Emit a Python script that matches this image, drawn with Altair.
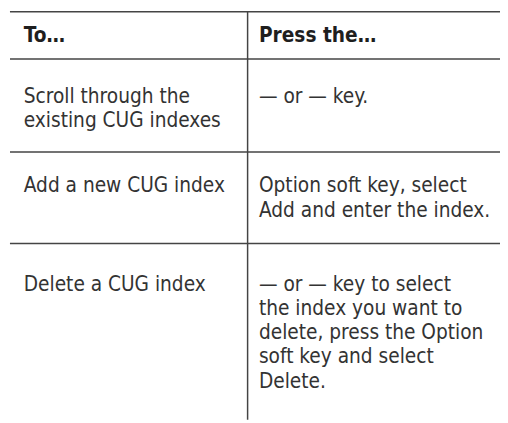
import altair as alt
import pandas as pd

# ---- table content ----
header = ["To…", "Press the…"]
col_to = [
    ["Scroll through the", "existing CUG indexes"],
    ["Add a new CUG index"],
    ["Delete a CUG index"],
]
col_press = [
    ["— or — key."],
    ["Option soft key, select", "Add and enter the index."],
    ["— or — key to select", "the index you want to", "delete, press the Option",
     "soft key and select", "Delete."],
]

# ---- layout (page pixels) ----
col_x = [24, 263]
header_base = 39
row_first_base = [101, 192, 292]
pitch = 24.6
h_lines = [8.5, 56.5, 151, 244]
v_line_x = 251.5

rows = []
for c, txt in enumerate(header):
    rows.append(dict(x=col_x[c], y=header_base, text=txt, bold=True))
for r in range(len(col_to)):
    for c, col in enumerate([col_to, col_press]):
        for i, line in enumerate(col[r]):
            rows.append(dict(x=col_x[c], y=row_first_base[r] + i * pitch, text=line, bold=False))
texts = pd.DataFrame(rows)

hrules = pd.DataFrame({"y": h_lines, "x": [10] * len(h_lines), "x2": [508] * len(h_lines)})
vrule = pd.DataFrame({"x": [v_line_x], "y": [h_lines[0]], "y2": [423]})

xs = alt.Scale(domain=[8, 508], range=[0, 500])
ys = alt.Scale(domain=[8, 423], range=[0, 415])
X = lambda f: alt.X(f, type="quantitative", scale=xs, axis=None)
Y = lambda f: alt.Y(f, type="quantitative", scale=ys, axis=None)

FONT = "DejaVu Sans Condensed, Roboto Condensed, Roboto, sans-serif"

body = alt.Chart(texts).transform_filter("!datum.bold").mark_text(
    align="left", baseline="alphabetic", font=FONT, fontSize=21, color="#333333"
).encode(x=X("x"), y=Y("y"), text="text:N")

head = alt.Chart(texts).transform_filter("datum.bold").mark_text(
    align="left", baseline="alphabetic", font=FONT, fontSize=21, fontWeight="bold", color="#1e1e1e"
).encode(x=X("x"), y=Y("y"), text="text:N")

hr = alt.Chart(hrules).mark_rule(color="#444444", strokeWidth=1.5).encode(
    x=X("x"), x2="x2", y=Y("y"))
vr = alt.Chart(vrule).mark_rule(color="#444444", strokeWidth=1.5).encode(
    x=X("x"), y=Y("y"), y2="y2")

chart = alt.layer(hr, vr, body, head).properties(
    width=500, height=415, padding=0, autosize=alt.AutoSizeParams(type="none"),
    background="white"
).configure_view(stroke=None)

chart.save("out.html", embed_options={"renderer": "svg", "actions": False})
